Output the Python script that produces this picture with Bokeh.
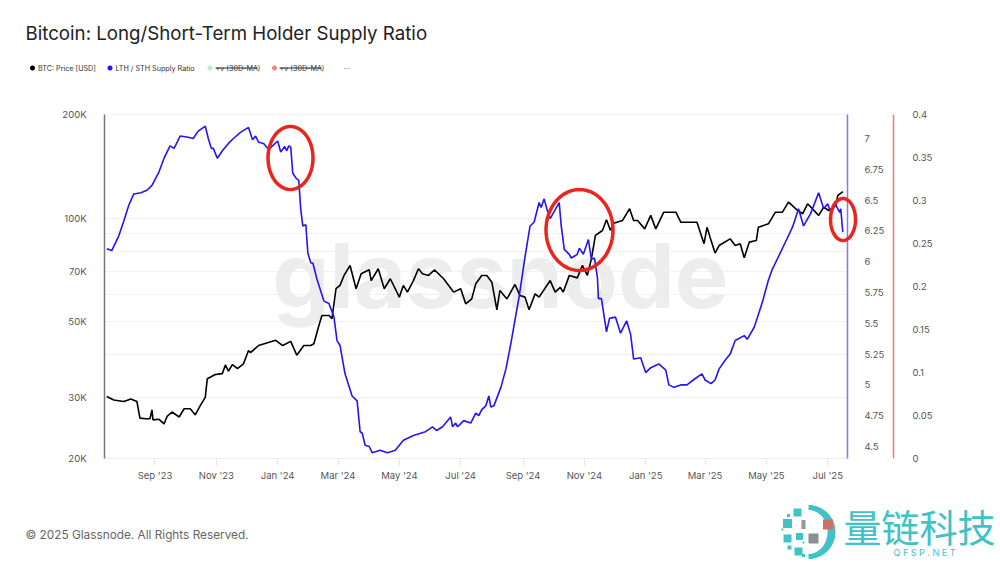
""" Bitcoin long/short-term holder supply ratio against price, Glassnode style """

import numpy as np
import pandas as pd
from bokeh.embed import file_html
from bokeh.models import (BoxAnnotation, FixedTicker, Label, LinearAxis, LinearScale, PolyAnnotation, Range1d)
from bokeh.plotting import figure
from bokeh.resources import INLINE

start_date = pd.Timestamp('2023-09-01')

# days since start_date
price_days = [-48, -41, -31, -24, -18, -15, -9, -5, -3, -2, 4, 9, 12, 17, 24, 29, 35, 40, 45, 50, 52, 60, 67, 70, 73,
              77, 82, 88, 93, 95, 103, 120, 127, 135, 141, 148, 155, 158, 163, 166, 173, 176, 180, 184, 188, 194, 197,
              200, 205, 213, 215, 222, 228, 234, 243, 247, 251, 257, 262, 266, 272, 278, 287, 297, 304, 309, 315, 319,
              325, 330, 335, 340, 343, 350, 358, 363, 368, 372, 378, 382, 393, 398, 403, 406, 412, 420, 425, 430, 434,
              438, 445, 449, 453, 456, 465, 472, 476, 480, 487, 493, 498, 506, 518, 523, 539, 546, 549, 552, 557, 561,
              572, 577, 582, 586, 591, 598, 600, 610, 617, 624, 630, 639, 644, 649, 660, 665, 670, 677, 679, 684]
price_usd = [30300, 29600, 29300, 29800, 29300, 26200, 26100, 26100, 27700, 25900, 26000, 25200, 26500, 27300, 26400,
             27900, 27900, 26800, 28500, 30100, 34100, 35100, 35300, 37400, 35900, 37500, 36500, 37700, 41200, 40600,
             42600, 44100, 42600, 43800, 39900, 42600, 42600, 43100, 48700, 52100, 52100, 51000, 62300, 63700, 68100,
             72800, 67300, 62300, 68900, 70700, 65800, 71200, 62300, 66600, 58900, 63700, 60900, 65800, 71200, 68900,
             68100, 70700, 66600, 60900, 62300, 56300, 58200, 64400, 68100, 68100, 65100, 54100, 61600, 58200, 64100,
             59500, 58900, 54100, 60200, 58900, 65800, 60900, 62900, 60900, 68100, 67000, 72800, 68100, 76100, 89000,
             92000, 98800, 92000, 96600, 98400, 106400, 98400, 98400, 93000, 101800, 93000, 104000, 104000, 97200,
             97200, 84200, 94000, 88000, 79100, 83200, 87000, 83200, 84200, 76600, 85100, 86000, 94000, 96200, 104000,
             104000, 111200, 105200, 102900, 110000, 101800, 107600, 105200, 108800, 116200, 119400]

ratio_days = [-48, -43, -36, -31, -26, -21, -14, -8, -3, 4, 9, 15, 19, 25, 33, 38, 43, 50, 53, 56, 58, 62, 67, 73, 78,
              85, 93, 97, 100, 103, 108, 113, 122, 125, 129, 131, 133, 135, 137, 140, 143, 145, 147, 150, 152, 155,
              157, 161, 168, 173, 178, 181, 184, 189, 196, 201, 204, 206, 209, 213, 216, 224, 231, 239, 247, 257, 269,
              276, 280, 286, 294, 296, 299, 301, 307, 314, 319, 322, 325, 329, 332, 334, 337, 344, 349, 354, 357, 362,
              368, 373, 377, 382, 384, 387, 390, 393, 402, 404, 407, 412, 414, 420, 422, 426, 431, 434, 437, 440, 441,
              444, 449, 452, 458, 463, 469, 473, 476, 483, 488, 493, 501, 508, 511, 516, 523, 529, 537, 544, 547, 553,
              557, 561, 567, 572, 577, 586, 589, 596, 604, 610, 614, 620, 627, 634, 640, 645, 652, 660, 665, 669, 672,
              677, 681, 682, 684]
ratio_values = [6.105, 6.09, 6.21, 6.33, 6.46, 6.55, 6.56, 6.58, 6.62, 6.73, 6.84, 6.94, 6.92, 7.02, 7.01, 7.0, 7.06,
                7.1, 7.0, 6.92, 6.92, 6.84, 6.9, 6.96, 7.0, 7.05, 7.09, 6.99, 7.02, 6.97, 6.96, 6.91, 6.98, 6.89, 6.935,
                6.9, 6.94, 6.93, 6.72, 6.68, 6.66, 6.42, 6.29, 6.3, 6.07, 5.99, 5.99, 5.86, 5.68, 5.66, 5.55, 5.36,
                5.32, 5.09, 4.91, 4.87, 4.62, 4.61, 4.51, 4.5, 4.45, 4.47, 4.45, 4.47, 4.55, 4.59, 4.62, 4.66, 4.63,
                4.66, 4.74, 4.66, 4.69, 4.66, 4.71, 4.69, 4.77, 4.75, 4.8, 4.83, 4.91, 4.82, 4.83, 4.98, 5.13, 5.34,
                5.48, 5.71, 6.04, 6.29, 6.32, 6.48, 6.44, 6.51, 6.42, 6.35, 6.48, 6.29, 6.1, 6.06, 6.03, 6.06, 6.11,
                6.06, 6.18, 6.02, 6.03, 5.87, 5.7, 5.7, 5.43, 5.54, 5.55, 5.42, 5.52, 5.41, 5.21, 5.22, 5.1, 5.14, 5.17,
                5.12, 5.0, 4.98, 5.0, 5.0, 5.05, 5.09, 5.04, 5.01, 5.04, 5.13, 5.2, 5.25, 5.36, 5.4, 5.37, 5.47, 5.67,
                5.85, 5.94, 6.04, 6.16, 6.28, 6.43, 6.29, 6.39, 6.56, 6.43, 6.47, 6.4, 6.46, 6.4, 6.43, 6.24]

price_labels = {20000: '20K', 30000: '30K', 50000: '50K', 70000: '70K', 100000: '100K', 200000: '200K'}
price_grid = [20000, 30000, 40000, 50000, 60000, 70000, 80000, 90000, 100000, 200000]
ratio_ticks = [4.5, 4.75, 5, 5.25, 5.5, 5.75, 6, 6.25, 6.5, 6.75, 7]
ma_ticks = [0, 0.05, 0.1, 0.15, 0.2, 0.25, 0.3, 0.35, 0.4]
month_ticks = ['2023-09-01', '2023-11-01', '2024-01-01', '2024-03-01', '2024-05-01', '2024-07-01', '2024-09-01',
               '2024-11-01', '2025-01-01', '2025-03-01', '2025-05-01', '2025-07-01']
month_labels = ["Sep '23", "Nov '23", "Jan '24", "Mar '24", "May '24", "Jul '24", "Sep '24", "Nov '24", "Jan '25",
                "Mar '25", "May '25", "Jul '25"]

TEAL = '#41c2c6'
TICK_COLOR = '#555555'
TICK_FONT_SIZE = '9.5px'
RED = '#e8261c'


def to_ms(days):
    return (start_date + pd.Timedelta(days=days)).timestamp() * 1000


def add_text(p, text, x, y, size, color='#333333', font='Inter', align='left', baseline='middle'):
    p.add_layout(Label(x=x, y=y, x_units='canvas', y_units='canvas', text=text, text_font=font,
                       text_font_size=size, text_color=color, text_align=align, text_baseline=baseline))


def add_ellipse(p, cx, cy, w, h, line_color=None, line_width=1, fill_color=None):
    t = np.linspace(0, 2 * np.pi, 60)
    p.add_layout(PolyAnnotation(xs=list(cx + w / 2 * np.cos(t)), ys=list(cy + h / 2 * np.sin(t)),
                                xs_units='canvas', ys_units='canvas', line_color=line_color, line_alpha=1,
                                line_width=line_width, fill_color=fill_color, fill_alpha=1 if fill_color else 0))


def add_square(p, cx, cy, w, h, color):
    p.add_layout(BoxAnnotation(left=cx - w / 2, right=cx + w / 2, top=cy - h / 2, bottom=cy + h / 2,
                               left_units='canvas', right_units='canvas', top_units='canvas', bottom_units='canvas',
                               fill_color=color, fill_alpha=1, line_color=None))


# the frame fills the whole canvas so that title, legend and logo can sit anywhere, axes are pinned inside it
x_left, x_right = to_ms(-50.2), to_ms(688.6)
p = figure(width=998, height=560, output_backend='svg', toolbar_location=None, y_axis_type='log',
           x_axis_type='datetime', x_range=Range1d(to_ms(-153.65), to_ms(838.86)), y_range=Range1d(10104, 428900),
           min_border=0)
p.outline_line_color = None
p.background_fill_color = 'white'
p.xgrid.visible = False
p.ygrid.ticker = FixedTicker(ticks=price_grid)
p.ygrid.grid_line_color = '#f1f1f1'
p.ygrid.grid_line_width = 1
p.ygrid.cross_bounds = (x_left, x_right)

p.extra_y_ranges = {'ratio': Range1d(3.5747, 8.1201), 'ma': Range1d(-0.1186, 0.53256)}
p.extra_y_scales = {'ratio': LinearScale(), 'ma': LinearScale()}

p.yaxis.fixed_location = x_left
p.yaxis.bounds = (20000, 200000)
p.yaxis.ticker = FixedTicker(ticks=list(price_labels))
p.yaxis.major_label_overrides = price_labels
p.yaxis.axis_line_color = '#777777'
p.yaxis.axis_line_width = 1.5
p.yaxis.major_tick_line_color = None
p.yaxis.minor_tick_line_color = None
p.yaxis.major_label_standoff = 12
p.yaxis.major_label_text_font = 'Inter'
p.yaxis.major_label_text_font_size = TICK_FONT_SIZE
p.yaxis.major_label_text_color = TICK_COLOR

tick_ms = [pd.Timestamp(m).timestamp() * 1000 for m in month_ticks]
p.xaxis.fixed_location = 20000
p.xaxis.bounds = (x_left, x_right)
p.xaxis.ticker = FixedTicker(ticks=tick_ms)
p.xaxis.major_label_overrides = dict(zip(tick_ms, month_labels))
p.xaxis.axis_line_color = '#eeeeee'
p.xaxis.major_tick_line_color = '#e6e6e6'
p.xaxis.major_tick_in = 0
p.xaxis.major_tick_out = 7
p.xaxis.minor_tick_line_color = None
p.xaxis.major_label_standoff = 5
p.xaxis.major_label_text_font = 'Inter'
p.xaxis.major_label_text_font_size = TICK_FONT_SIZE
p.xaxis.major_label_text_color = TICK_COLOR

ratio_axis = LinearAxis(y_range_name='ratio', fixed_location=x_right, bounds=(4.403, 7.195),
                        ticker=FixedTicker(ticks=ratio_ticks), axis_line_color='#7c7cf2',
                        axis_line_width=1.5, major_tick_line_color=None, minor_tick_line_color=None,
                        major_label_standoff=11, major_label_text_font='Inter',
                        major_label_text_font_size=TICK_FONT_SIZE, major_label_text_color=TICK_COLOR,
                        major_label_overrides={5: '5', 6: '6', 7: '7'})
ma_axis = LinearAxis(y_range_name='ma', fixed_location=to_ms(734.4), bounds=(0, 0.4),
                     ticker=FixedTicker(ticks=ma_ticks), axis_line_color='#f07a7a',
                     axis_line_width=1.5, major_tick_line_color=None, minor_tick_line_color=None,
                     major_label_standoff=13, major_label_text_font='Inter',
                     major_label_text_font_size=TICK_FONT_SIZE, major_label_text_color=TICK_COLOR,
                     major_label_overrides={0: '0', 0.1: '0.1', 0.2: '0.2', 0.3: '0.3', 0.4: '0.4'})
p.add_layout(ratio_axis, 'right')
p.add_layout(ma_axis, 'right')

# watermark sits under the lines
p.add_layout(Label(x=500, y=275, x_units='canvas', y_units='canvas', text='glassnode', text_font='Inter',
                   text_font_style='bold', text_font_size='90px', text_color='#ededed', text_align='center',
                   text_baseline='alphabetic', level='underlay'))

p.line(start_date + pd.to_timedelta(price_days, unit='D'), price_usd, line_color='black', line_width=1.6)
p.line(start_date + pd.to_timedelta(ratio_days, unit='D'), ratio_values, line_color='#2415f2', line_width=1.6,
       y_range_name='ratio')

# hand drawn red circles
add_ellipse(p, 290, 157.5, 45, 63, RED, 3.5)
add_ellipse(p, 579, 229.5, 67, 81, RED, 3.5)
add_ellipse(p, 842.5, 219, 25, 42, RED, 3.5)

add_text(p, 'Bitcoin: Long/Short-Term Holder Supply Ratio', 25, 33, '18.7px', '#222222')
add_text(p, '\u00a9 2025 Glassnode. All Rights Reserved.', 25, 534, '11.8px', '#666666')

# legend row
add_ellipse(p, 32, 67.5, 5, 5, fill_color='black')
add_text(p, 'BTC: Price [USD]', 37.5, 67.5, '7.2px')
add_ellipse(p, 109.5, 67.5, 5, 5, fill_color='#2415f2')
add_text(p, 'LTH / STH Supply Ratio', 115, 67.5, '7.2px')
add_ellipse(p, 209.5, 67.5, 5, 5, fill_color='#b5f0c8')
add_text(p, '+v (30D-MA)', 215, 67.5, '7.2px')
add_square(p, 236, 67.5, 42, 0.8, '#333333')
add_ellipse(p, 274, 67.5, 5, 5, fill_color='#f98378')
add_text(p, '+v (30D-MA)', 279, 67.5, '7.2px')
add_square(p, 300, 67.5, 42, 0.8, '#333333')
add_text(p, '--', 343, 67.5, '7.2px', '#888888')

# logo, bottom right
t = np.radians(np.linspace(-90, 90, 40))
arc_x = np.concatenate([808 + 27 * np.cos(t), 808 + 19 * np.cos(t[::-1])])
arc_y = np.concatenate([531.5 + 27 * np.sin(t), 531.5 + 22 * np.sin(t[::-1])])
p.add_layout(PolyAnnotation(xs=list(arc_x), ys=list(arc_y), xs_units='canvas', ys_units='canvas', line_color=None,
                            fill_color=TEAL, fill_alpha=1))
for cx, cy, w, h in [(797, 512, 8, 8), (787, 523, 9, 9), (787, 538, 8, 8), (799, 536, 7, 7), (798, 551, 8, 8),
                     (788, 515, 3, 3), (782, 529, 2, 2), (789, 547, 4, 4), (803, 555, 3, 3), (803, 542, 2, 2)]:
    add_square(p, cx, cy, w, h, TEAL)
add_square(p, 803, 524, 4, 9, '#8f9a9b')
add_square(p, 813, 538, 10, 10, '#8c8f90')
add_square(p, 827.5, 524, 10, 10, '#c9736a')
add_text(p, '\u91cf\u94fe\u79d1\u6280', 843, 525, '38px', TEAL, 'Noto Sans CJK SC')
add_text(p, 'Q F S P . N E T', 893, 552, '9px', TEAL)

open("out.html", "w").write(file_html(p, INLINE))
